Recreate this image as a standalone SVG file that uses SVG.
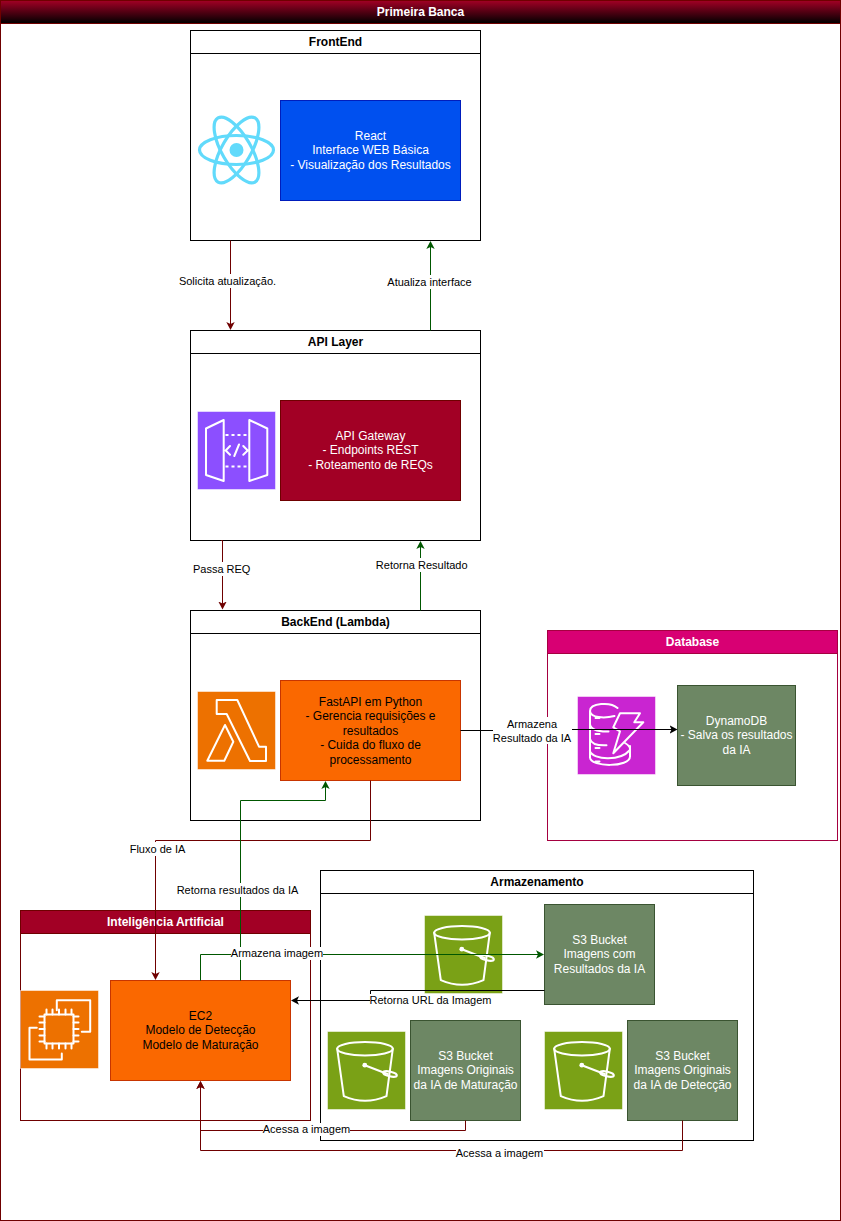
<svg xmlns="http://www.w3.org/2000/svg" xmlns:xlink="http://www.w3.org/1999/xlink" width="841" height="1221" viewBox="0 0 841 1221">
<style>
text{font-family:"Liberation Sans",Arial,Helvetica,sans-serif;font-size:12px;text-anchor:middle;fill:#000}
.t{font-weight:bold}
.w{fill:#fff}
.lane{fill:#fff;stroke:#000;stroke-width:1}
.head{fill:none;stroke:#000;stroke-width:1}
.red{fill:#a20025;stroke:#6f0000;stroke-width:1}
.pink{fill:#d80073;stroke:#a50040;stroke-width:1}
.laneR{fill:#fff;stroke:#6f0000;stroke-width:1}
.laneP{fill:#fff;stroke:#a50040;stroke-width:1}
.blue{fill:#0050ef;stroke:#001dbc}
.orange{fill:#fa6800;stroke:#c73500}
.green{fill:#6d8764;stroke:#3a5431}
.ib{stroke:#fff;stroke-opacity:.5;stroke-width:1}
.ic{fill:none;stroke:#fff;stroke-width:2;stroke-linejoin:round;stroke-linecap:round}
.c{fill:none;stroke-width:1}
.cr{stroke:#6f0000}.cg{stroke:#005700}.ck{stroke:#000}
.l{font-size:11px}
.bg{fill:#fff;stroke:none}
</style>
<defs>
<linearGradient id="hg" x1="0" y1="0" x2="0" y2="1"><stop offset="0" stop-color="#a20025"/><stop offset="1" stop-color="#000"/></linearGradient>
<marker id="ar" markerUnits="userSpaceOnUse" markerWidth="10" markerHeight="10" viewBox="0 -5 10 10" refX="6" refY="0" orient="auto"><path d="M0-4.2 8 0 0 4.2 2 0Z" fill="#6f0000"/></marker>
<marker id="ag" markerUnits="userSpaceOnUse" markerWidth="10" markerHeight="10" viewBox="0 -5 10 10" refX="6" refY="0" orient="auto"><path d="M0-4.2 8 0 0 4.2 2 0Z" fill="#005700"/></marker>
<marker id="ak" markerUnits="userSpaceOnUse" markerWidth="10" markerHeight="10" viewBox="0 -5 10 10" refX="6" refY="0" orient="auto"><path d="M0-4.2 8 0 0 4.2 2 0Z" fill="#000"/></marker>
<g id="s3icon">
<rect class="ib" width="78" height="78" fill="#7aa116"/>
<ellipse class="ic" cx="37.5" cy="17.3" rx="27.8" ry="6.7"/>
<path class="ic" d="M9.7 17.3 16.3 64.7Q37.5 74 59 64.7L65.3 17.3M37.3 33.700 60 42.5"/>
<circle cx="37.3" cy="33.7" r="2.4" fill="#fff"/>
<ellipse class="ic" cx="62.5" cy="42.5" rx="7" ry="2.4" transform="rotate(12 62.5 42.5)"/>
</g>
</defs>

<g id="frame">
<rect x="0.5" y="0.5" width="840" height="1220" class="laneR"/>
<rect x="0.5" y="0.5" width="840" height="23" fill="url(#hg)" stroke="#6f0000"/>
<text x="420.5" y="16" class="t w">Primeira Banca</text>
</g>

<g id="frontend">
<rect x="190.5" y="30.5" width="290" height="210" class="lane"/>
<path d="M190.5 53.5H480.5" class="head"/>
<text x="335.5" y="46" class="t">FrontEnd</text>
<g id="react-icon" fill="none" stroke="#61dafb" stroke-width="3.2">
<ellipse cx="236.5" cy="150" rx="37" ry="14.5"/>
<ellipse cx="236.5" cy="150" rx="37" ry="14.5" transform="rotate(60 236.5 150)"/>
<ellipse cx="236.5" cy="150" rx="37" ry="14.5" transform="rotate(120 236.5 150)"/>
<circle cx="236.5" cy="150" r="7" fill="#61dafb" stroke="none"/>
</g>
<g id="react">
<rect x="280.5" y="100.5" width="180" height="100" class="blue"/>
<text x="370.5" y="140" class="w">React</text>
<text x="370.5" y="154.4" class="w">Interface WEB Básica</text>
<text x="370.5" y="168.8" class="w">- Visualização dos Resultados</text>
</g>
</g>

<g id="api-layer">
<rect x="190.5" y="330.5" width="290" height="210" class="lane"/>
<path d="M190.5 353.5H480.5" class="head"/>
<text x="335.5" y="346" class="t">API Layer</text>
<g id="apigw-icon" transform="translate(197.5 411.5)">
<rect class="ib" width="78" height="78" fill="#8c4fff"/>
<path class="ic" d="M8.5 17 26.2 8.5V69.5L8.5 63.5ZM51.8 8.5 69.8 17V63.5L51.8 69.5ZM32.5 34.5 28.2 39 32.5 43.2M45.8 34.5 50.2 39 45.8 43.2M36.8 44.5 41.5 33"/>
<path class="ic" d="M28 23.5H50M28 55H50" stroke-dasharray="3 3" style="stroke-linecap:butt"/>
</g>
<g id="apigw">
<rect x="280.5" y="400.5" width="180" height="100" class="red"/>
<text x="370.5" y="440" class="w">API Gateway</text>
<text x="370.5" y="454.4" class="w">- Endpoints REST</text>
<text x="370.5" y="468.8" class="w">- Roteamento de REQs</text>
</g>
</g>

<g id="backend">
<rect x="190.5" y="610.5" width="290" height="210" class="lane"/>
<path d="M190.5 633.5H480.5" class="head"/>
<text x="335.5" y="626" class="t">BackEnd (Lambda)</text>
<g id="lambda-icon" transform="translate(197.5 691.5)">
<rect class="ib" width="78" height="78" fill="#ed7100"/>
<path class="ic" d="M19.2 8.5H39.8L61.5 55.2H68.5V69.5H52.5L29.2 22.5H19.2ZM27.5 33.5 35.8 50.2 26.8 69.2H9.8Z"/>
</g>
<g id="fastapi">
<rect x="280.5" y="680.5" width="180" height="100" class="orange"/>
<text x="370.5" y="706">FastAPI em Python</text>
<text x="370.5" y="720.4">- Gerencia requisições e</text>
<text x="370.5" y="734.8">resultados</text>
<text x="370.5" y="749.2">- Cuida do fluxo de</text>
<text x="370.5" y="763.6">processamento</text>
</g>
</g>

<g id="database">
<rect x="547.5" y="630.5" width="290" height="210" class="laneP"/>
<rect x="547.5" y="630.5" width="290" height="23" class="pink"/>
<text x="692.5" y="646" class="t w">Database</text>
<g id="dynamo-icon" transform="translate(577.5 696.5)">
<rect class="ib" width="78" height="78" fill="#c925d1"/>
<path class="ic" d="M40 11.500C33 5 12.500 6.500 12.500 14.500V61C13 71 52.500 71 52.500 60V49.500M12.500 14.500C13 21.500 27 22 37 19.500M12.500 28C14 34.500 24 35.200 31 35M12.500 42.500C14 48.500 24 49 29 48.800M12.500 55C16 63 42 65.500 52.500 53.500 53 50.500 51 48.500 47.500 46.500M18 21.500H22M18 37.500H22M18 51.500H22M18 65H22"/>
<path class="ic" d="M42.500 16.800H62.500L56.800 25.800H65.800L35.800 56.800 42.500 34.800 35.800 30.800Z"/>
</g>
<g id="dynamodb">
<rect x="677.5" y="685.5" width="118" height="100" class="green"/>
<text x="736.5" y="725" class="w">DynamoDB</text>
<text x="736.5" y="739.4" class="w">- Salva os resultados</text>
<text x="736.5" y="753.8" class="w">da IA</text>
</g>
</g>

<g id="ia">
<rect x="20.5" y="910.5" width="290" height="210" class="laneR"/>
<rect x="20.5" y="910.5" width="290" height="23" class="red"/>
<text x="165.5" y="926" class="t w">Inteligência Artificial</text>
<g id="ec2-icon" transform="translate(20.5 990.5)">
<rect class="ib" width="78" height="78" fill="#ed7100"/>
<path class="ic" d="M36.300 19.700V9.700H69.700V41.300H61.300M16.300 37.300H9V69H41.300V63"/>
<rect x="24" y="24" width="29" height="29" class="ic"/>
<path class="ic" d="M26 19V24M32 19V24M38.500 19V24M45 19V24M51 19V24M26 53V58M32 53V58M38.500 53V58M45 53V58M51 53V58M19 26H24M19 32H24M19 38.500H24M19 45H24M19 51H24M53 26H58M53 32H58M53 38.500H58M53 45H58M53 51H58"/>
</g>
<g id="ec2">
<rect x="110.5" y="980.5" width="180" height="100" class="orange"/>
<text x="200.5" y="1020">EC2</text>
<text x="200.5" y="1034.4">Modelo de Detecção</text>
<text x="200.5" y="1048.8">Modelo de Maturação</text>
</g>
</g>

<g id="armazenamento">
<rect x="320.5" y="870.5" width="433" height="270" class="lane"/>
<path d="M320.5 893.500H753.500" class="head"/>
<text x="537" y="886" class="t">Armazenamento</text>
<g id="s3-icon-resultados"><use href="#s3icon" x="424.5" y="915.5"/></g>
<g id="s3-resultados">
<rect x="544.5" y="904.5" width="110" height="100" class="green"/>
<text x="599.5" y="944" class="w">S3 Bucket</text>
<text x="599.5" y="958.4" class="w">Imagens com</text>
<text x="599.5" y="972.8" class="w">Resultados da IA</text>
</g>
<g id="s3-icon-maturacao"><use href="#s3icon" x="327.5" y="1031.5"/></g>
<g id="s3-maturacao">
<rect x="410.500" y="1020.5" width="110" height="100" class="green"/>
<text x="465.5" y="1060" class="w">S3 Bucket</text>
<text x="465.5" y="1074.4" class="w">Imagens Originais</text>
<text x="465.5" y="1088.8" class="w">da IA de Maturação</text>
</g>
<g id="s3-icon-deteccao"><use href="#s3icon" x="544.5" y="1031.5"/></g>
<g id="s3-deteccao">
<rect x="627.5" y="1020.5" width="110" height="100" class="green"/>
<text x="682.5" y="1060" class="w">S3 Bucket</text>
<text x="682.5" y="1074.4" class="w">Imagens Originais</text>
<text x="682.5" y="1088.8" class="w">da IA de Detecção</text>
</g>
</g>

<g id="connectors">
<path class="c cr" d="M230.500 240.500V328" marker-end="url(#ar)"/>
<rect class="bg" x="179" y="274" width="97" height="14"/>
<text class="l" x="227.500" y="285">Solicita atualização.</text>

<path class="c cg" d="M430.500 330.500V243" marker-end="url(#ag)"/>
<rect class="bg" x="387" y="275" width="85" height="14"/>
<text class="l" x="429.500" y="286">Atualiza interface</text>

<path class="c cr" d="M221 540.500H222.500V607.500" marker-end="url(#ar)"/>
<rect class="bg" x="193" y="562" width="58" height="14"/>
<text class="l" x="221.700" y="573">Passa REQ</text>

<path class="c cg" d="M420.500 610.500V543" marker-end="url(#ag)"/>
<rect class="bg" x="376" y="558" width="92" height="14"/>
<text class="l" x="421.700" y="569">Retorna Resultado</text>

<path class="c ck" d="M460.500 730.500H500"/>
<path class="c ck" d="M565 729.500H675.500" marker-end="url(#ak)"/>
<rect class="bg" x="493" y="717" width="79" height="27"/>
<text class="l" x="532" y="728">Armazena</text>
<text class="l" x="532" y="742">Resultado da IA</text>

<path class="c cr" d="M370.500 780.500V840.500H155.500V978" marker-end="url(#ar)"/>
<rect class="bg" x="129" y="842" width="57" height="14"/>
<text class="l" x="157.500" y="853">Fluxo de IA</text>

<path class="c cg" d="M240.500 980.500V800.500H325.500V783" marker-end="url(#ag)"/>
<rect class="bg" x="176" y="883" width="123" height="14"/>
<text class="l" x="237.500" y="894">Retorna resultados da IA</text>

<path class="c cg" d="M200.500 980.500V954.500H542" marker-end="url(#ag)"/>
<rect class="bg" x="231" y="947" width="92" height="13"/>
<text class="l" x="277" y="957">Armazena imagem</text>

<path class="c ck" d="M544.500 990.500H370.500V1000.500H293" marker-end="url(#ak)"/>
<rect class="bg" x="370" y="994" width="121" height="13"/>
<text class="l" x="430.500" y="1004">Retorna URL da Imagem</text>

<path class="c cr" d="M465.500 1120.500V1130.500H200.500V1083" marker-end="url(#ar)"/>
<rect class="bg" x="263" y="1123" width="87" height="13"/>
<text class="l" x="306.500" y="1133">Acessa a imagem</text>

<path class="c cr" d="M682.500 1120.500V1150.500H200.500V1083" marker-end="url(#ar)"/>
<rect class="bg" x="456" y="1146" width="88" height="14"/>
<text class="l" x="499.500" y="1157">Acessa a imagem</text>
</g>
</svg>
